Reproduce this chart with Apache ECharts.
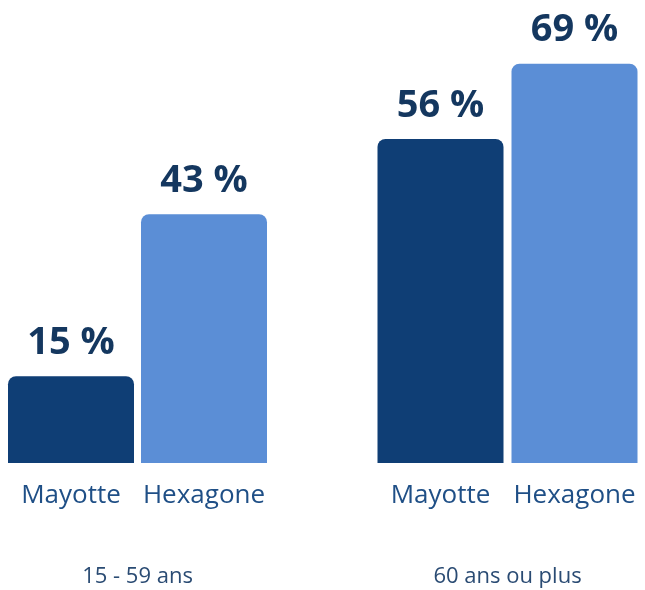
<!DOCTYPE html>
<html>
<head>
<meta charset="utf-8">
<script src="https://cdn.jsdelivr.net/npm/echarts@6/dist/echarts.min.js"></script>
<style>
  html, body { margin: 0; padding: 0; background: #fff; }
  #mainPlot { width: 645px; height: 590px; }
</style>
</head>
<body>
<div id="mainPlot"></div>
<script>
const categories = ["Mayotte", "Hexagone"];
const groups = ["15 - 59 ans", "60 ans ou plus"];
const values = [
  [15, 43],
  [56, 69],
];
const colors = ["#0f3e75", "#5b8ed6"];

const chartDom = document.getElementById("mainPlot");
const myChart = echarts.init(chartDom);

const grids = [
  { left: 4.5, width: 266, top: 0, bottom: 127, outerBoundsMode: "none" },
  { left: 373.5, width: 268, top: 0, bottom: 127, outerBoundsMode: "none" },
];

const option = {
  animation: false,
  grid: grids,
  xAxis: groups.map((g, i) => ({
    type: "category",
    gridIndex: i,
    data: categories,
    axisLine: { show: false },
    axisTick: { show: false },
    axisLabel: {
      interval: 0,
      margin: 20,
      fontFamily: "Open Sans",
      fontSize: 26,
      color: "#1f4f86",
    },
    name: g,
    nameLocation: "middle",
    nameGap: 103,
    nameTextStyle: {
      fontFamily: "Open Sans",
      fontSize: 22,
      color: "#2a4b73",
    },
  })),
  yAxis: groups.map((g, i) => ({
    type: "value",
    gridIndex: i,
    min: 0,
    max: 80,
    show: false,
  })),
  series: groups.map((g, i) => ({
    type: "bar",
    xAxisIndex: i,
    yAxisIndex: i,
    barWidth: 126,
    data: values[i].map((v, j) => ({
      value: v,
      itemStyle: { color: colors[j], borderRadius: [8, 8, 0, 0] },
    })),
    label: {
      show: true,
      position: "top",
      distance: 14,
      formatter: "{c} %",
      fontFamily: "Open Sans",
      fontWeight: "bold",
      fontSize: 38,
      color: "#14375f",
    },
  })),
};

myChart.setOption(option);
</script>
</body>
</html>
